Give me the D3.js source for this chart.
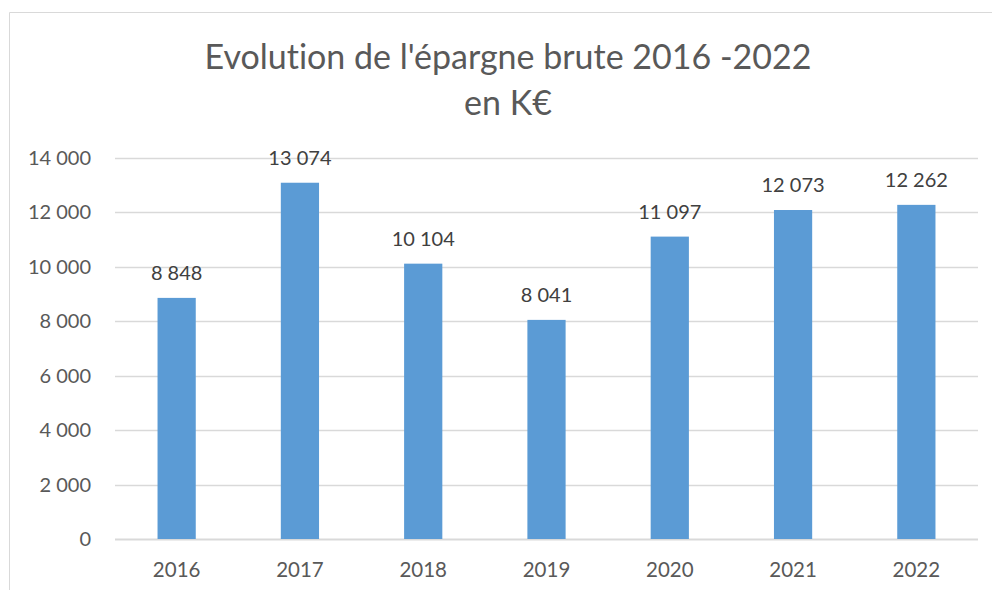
<!DOCTYPE html>
<html>
<head>
<meta charset="utf-8">
<script src="https://cdn.jsdelivr.net/npm/d3@7"></script>
<style>
html, body { margin: 0; padding: 0; background: #fff; overflow: hidden; }
text { font-family: Lato, "Open Sans", sans-serif; font-variant-ligatures: none; }
</style>
</head>
<body>
<script>

var years = ['2016', '2017', '2018', '2019', '2020', '2021', '2022'];
var epargne = [8848, 13074, 10104, 8041, 11097, 12073, 12262];
var yTicks = [0, 2000, 4000, 6000, 8000, 10000, 12000, 14000];
var titleLines = ["Evolution de l'épargne brute 2016 -2022", 'en K€'];

var w = 992, h = 590;
var svg = d3.select('body').append('svg')
  .attr('width', w)
  .attr('height', h);

// chart frame
svg.append('path')
  .attr('d', 'M9.5,590 V12.5 H992')
  .attr('fill', 'none')
  .attr('stroke', '#d9d9d9')
  .attr('stroke-width', 1);

var x = d3.scaleBand().domain(years).range([115, 978]).paddingInner(0.69).paddingOuter(0.345);
var y = d3.scaleLinear().domain([0, 14000]).range([539, 157.5]);

var fmt = function(v) { return d3.format(',')(v).replace(/,/g, ' '); };

// gridlines
svg.append('g').selectAll('line')
  .data(yTicks)
  .enter().append('line')
  .attr('x1', 115).attr('x2', 978)
  .attr('y1', function(d) { return Math.round(y(d)) + 0.5; })
  .attr('y2', function(d) { return Math.round(y(d)) + 0.5; })
  .attr('stroke', '#d9d9d9')
  .attr('stroke-width', function(d) { return d === 0 ? 2 : 1.3; });

// y labels
svg.append('g').selectAll('text')
  .data(yTicks)
  .enter().append('text')
  .attr('x', 91)
  .attr('y', function(d) { return y(d); })
  .attr('dy', '0.35em')
  .attr('text-anchor', 'end')
  .attr('font-size', 20)
  .attr('fill', '#595959')
  .text(fmt);

// bars
svg.append('g').selectAll('rect')
  .data(epargne)
  .enter().append('rect')
  .attr('x', function(d, i) { return x(years[i]); })
  .attr('width', x.bandwidth())
  .attr('y', function(d) { return y(d); })
  .attr('height', function(d) { return y(0) - y(d); })
  .attr('fill', '#5b9bd5');

// data labels
svg.append('g').selectAll('text')
  .data(epargne)
  .enter().append('text')
  .attr('x', function(d, i) { return x(years[i]) + x.bandwidth() / 2; })
  .attr('y', function(d) { return y(d) - 18; })
  .attr('text-anchor', 'middle')
  .attr('font-size', 20)
  .attr('fill', '#404040')
  .text(fmt);

// x labels
svg.append('g').selectAll('text')
  .data(years)
  .enter().append('text')
  .attr('x', function(d) { return x(d) + x.bandwidth() / 2; })
  .attr('y', 570)
  .attr('dy', '0.35em')
  .attr('text-anchor', 'middle')
  .attr('font-size', 20.5)
  .attr('fill', '#595959')
  .text(function(d) { return d; });

// title
svg.append('g').selectAll('text')
  .data(titleLines)
  .enter().append('text')
  .attr('x', 508)
  .attr('y', function(d, i) { return 57 + i * 46; })
  .attr('dy', '0.35em')
  .attr('text-anchor', 'middle')
  .attr('font-size', 34)
  .attr('fill', '#595959')
  .text(function(d) { return d; });

</script>
</body>
</html>
